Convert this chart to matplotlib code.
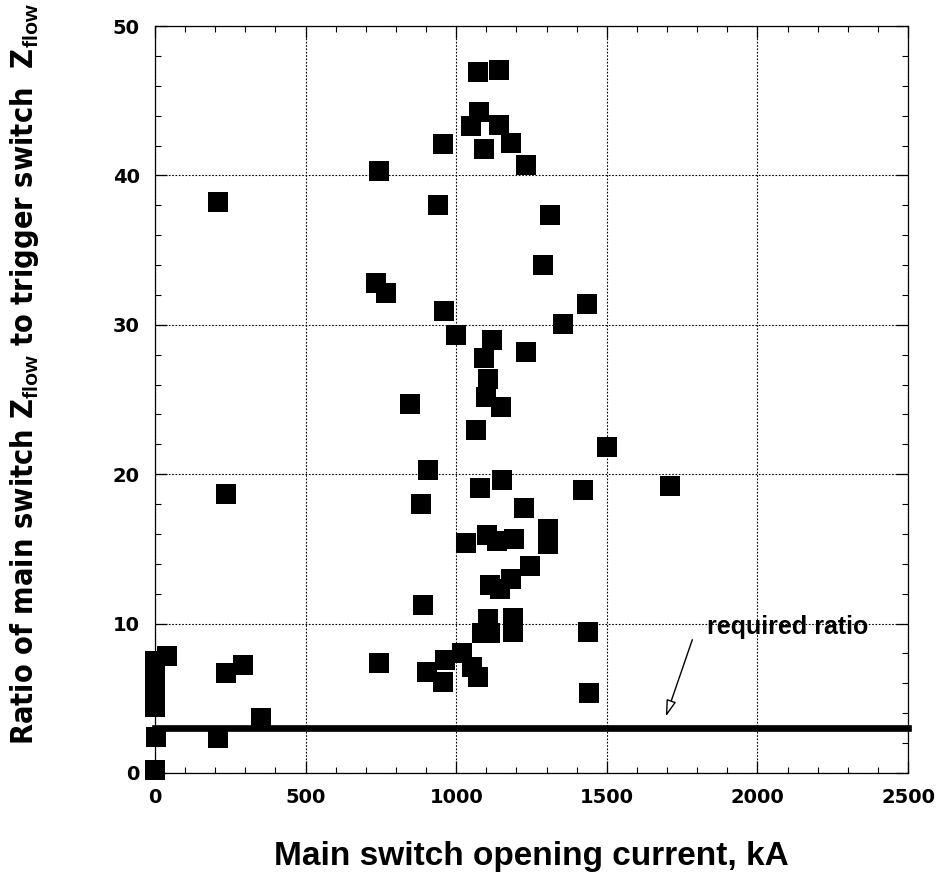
import matplotlib
matplotlib.use("Agg")
import matplotlib.pyplot as plt
from matplotlib import font_manager
from matplotlib.ticker import MultipleLocator

# Measured shots: main switch opening current (kA) vs. Zflow ratio
current_ka = [
    1071, 1142, 1077, 1049, 1142, 957, 1093, 1181, 1231, 745,
    210, 940, 1311, 1287, 734, 767, 958, 1000, 1118, 1232,
    1092, 1107, 1099, 1150, 847, 1065, 1435, 1354, 906, 1151,
    1079, 236, 883, 1225, 1306, 1306, 1032, 1103, 1134, 1192,
    1245, 1181, 1112, 1145, 889, 1104, 1085, 1112, 1190, 1190,
    1018, 963, 902, 957, 1051, 1073, 744, 1502, 1422, 1710,
    1437, 1442, 0, 0, 0, 0, 0, 39, 235, 293,
    352, 2, 210, 0,
]
zflow_ratio = [
    46.9, 47.05, 44.26, 43.3, 43.4, 42.1, 41.8, 42.2, 40.7, 40.3,
    38.2, 38.0, 37.35, 34.0, 32.8, 32.1, 30.9, 29.3, 29.0, 28.2,
    27.8, 26.35, 25.2, 24.5, 24.7, 22.96, 31.37, 30.05, 20.3, 19.6,
    19.05, 18.7, 17.98, 17.76, 16.3, 15.35, 15.4, 15.9, 15.5, 15.64,
    13.86, 13.0, 12.6, 12.3, 11.24, 10.33, 9.4, 9.4, 10.35, 9.45,
    8.0, 7.56, 6.78, 6.11, 7.1, 6.45, 7.34, 21.8, 18.94, 19.2,
    9.44, 5.38, 7.5, 6.6, 5.8, 5.0, 4.4, 7.83, 6.7, 7.23,
    3.7, 2.39, 2.32, 0.2,
]
required_ratio = 3.0
x_ticks = [0, 500, 1000, 1500, 2000, 2500]
y_ticks = [0, 10, 20, 30, 40, 50]

plt.rcParams["mathtext.fontset"] = "custom"
plt.rcParams["mathtext.rm"] = "Liberation Sans"
plt.rcParams["mathtext.bf"] = "Liberation Sans:bold"

# Narrow bold face for the vertical axis title when one is available
cond_path = font_manager.findfont(
    font_manager.FontProperties(family="DejaVu Sans", stretch="condensed", weight="bold"))
if "Condensed" in cond_path:
    ylab_font = dict(family="DejaVu Sans", stretch="condensed", weight="bold", size=22)
else:
    ylab_font = dict(family="Liberation Sans", weight="bold", size=20)

fig = plt.figure(figsize=(9.43, 8.73), dpi=100)
ax = fig.add_axes([155 / 943, 1 - 773 / 873, (908 - 155) / 943, (773 - 26) / 873])

ax.set_xlim(0, 2500)
ax.set_ylim(0, 50)

ax.grid(True, which="major", color="black", linestyle=(0, (1.5, 1.5)), linewidth=0.8)
ax.set_axisbelow(True)

ax.plot(current_ka, zflow_ratio, linestyle="none", marker="s", markersize=13.7,
        markerfacecolor="black", markeredgewidth=0, color="black", clip_on=False, zorder=3)

ax.axhline(required_ratio, color="black", linewidth=4.8, zorder=4, clip_on=False)

ax.annotate("", xy=(1693, 3.6), xytext=(1787, 9.1),
            arrowprops=dict(arrowstyle="-|>,head_length=1.0,head_width=0.3",
                            facecolor="white", edgecolor="black", linewidth=1.0),
            zorder=5)
ax.text(1834, 9.79, "required ratio", family="Liberation Sans", weight="bold",
        fontsize=18, ha="left", va="center", zorder=5)

ax.xaxis.set_minor_locator(MultipleLocator(100))
ax.yaxis.set_minor_locator(MultipleLocator(2))
ax.set_xticks(x_ticks)
ax.set_yticks(y_ticks)
ax.set_xticklabels([str(v) for v in x_ticks])
ax.set_yticklabels([str(v) for v in y_ticks])

ax.tick_params(which="both", direction="in", top=True, right=True, color="black")
ax.tick_params(which="major", length=8.5, width=0.9)
ax.tick_params(which="minor", length=4.3, width=0.8)
ax.tick_params(axis="x", which="major", pad=11)
ax.tick_params(axis="y", which="major", pad=11)
for lab in ax.get_xticklabels() + ax.get_yticklabels():
    lab.set_family("DejaVu Sans")
    lab.set_weight("bold")
    lab.set_fontsize(14)

for sp in ax.spines.values():
    sp.set_linewidth(0.9)
    sp.set_color("black")

fig.text(531 / 943, 1 - 865 / 873, "Main switch opening current, kA",
         family="Liberation Sans", weight="bold", fontsize=24,
         ha="center", va="baseline")

fig.text(25 / 943, 1 - 374 / 873,
         r"Ratio of main switch Z$_{\mathbf{flow}}$ to trigger switch  Z$_{\mathbf{flow}}$",
         rotation=90, ha="center", va="center", **ylab_font)

fig.savefig("out.png", dpi=100)
